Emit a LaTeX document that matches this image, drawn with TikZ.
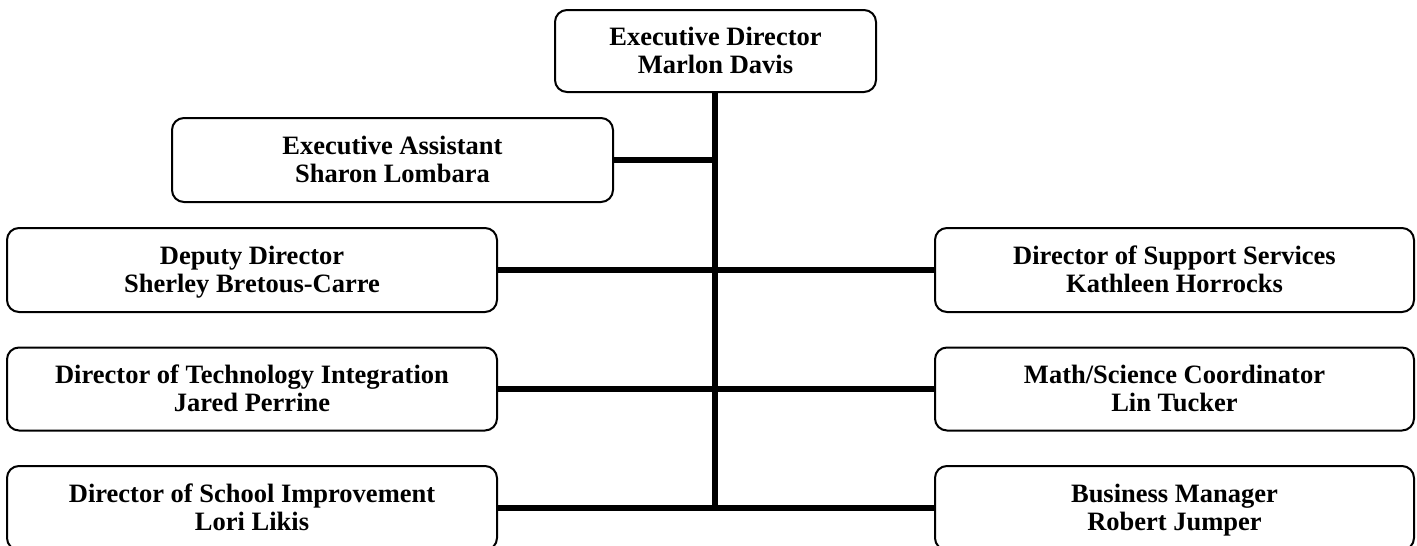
\documentclass[tikz,border=0pt]{standalone}
\usepackage{fontspec}
\setmainfont{Liberation Serif}
\begin{document}
\begin{tikzpicture}[x=1pt,y=-1pt,
  box/.style={draw=black, line width=2pt, rounded corners=12pt, fill=white,
    align=center, inner sep=0pt, text height=45.5pt, text depth=0pt,
    font=\bfseries\fontsize{26.5}{28}\selectfont},
  conn/.style={draw=black, line width=6pt}]
\useasboundingbox (0,0) rectangle (1417,546);
\node[box, minimum width=321pt, minimum height=82pt] (ed) at (715.5,51) {Executive Director\\Marlon Davis};
\node[box, minimum width=441pt, minimum height=84pt] (ea) at (392.5,160) {Executive Assistant\\Sharon Lombara};
\node[box, minimum width=490pt, minimum height=84pt] (dd) at (252,270) {Deputy Director\\Sherley Bretous-Carre};
\node[box, minimum width=479pt, minimum height=84pt] (dss) at (1174.5,270) {Director of Support Services\\Kathleen Horrocks};
\node[box, minimum width=490pt, minimum height=83pt] (dti) at (252,389) {Director of Technology Integration\\Jared Perrine};
\node[box, minimum width=479pt, minimum height=83pt] (msc) at (1174.5,389) {Math/Science Coordinator\\Lin Tucker};
\node[box, minimum width=490pt, minimum height=84pt] (dsi) at (252,508) {Director of School Improvement\\Lori Likis};
\node[box, minimum width=479pt, minimum height=84pt] (bm) at (1174.5,508) {Business Manager\\Robert Jumper};
\coordinate (spineEnd) at (715,508);
\draw[conn] (ed.south -| spineEnd) -- (spineEnd);
\draw[conn] (ea.east) -- (ea.east -| spineEnd);
\draw[conn] (dd.east) -- (dss.west);
\draw[conn] (dti.east) -- (msc.west);
\draw[conn] (dsi.east) -- (bm.west);
\end{tikzpicture}
\end{document}
